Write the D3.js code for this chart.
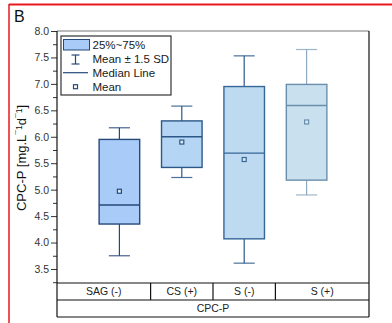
<!DOCTYPE html>
<html>
<head>
<meta charset="utf-8">
<script src="https://cdn.jsdelivr.net/npm/d3@7/dist/d3.min.js"></script>
<style>
  html, body { margin: 0; padding: 0; background: #fff; }
  svg { display: block; font-family: "Liberation Sans", Arial, sans-serif; }
</style>
</head>
<body>
<svg id="chart" width="392" height="323"></svg>
<script>
// Group labels and box statistics (CPC-P, mg.L^-1 d^-1)
const categories = ["SAG (-)", "CS (+)", "S (-)", "S (+)"];
const whiskerLow  = [3.75, 5.23, 3.61, 4.90];
const q1          = [4.35, 5.42, 4.07, 5.18];
const median      = [4.71, 6.00, 5.69, 6.59];
const q3          = [5.95, 6.30, 6.95, 6.99];
const whiskerHigh = [6.17, 6.58, 7.53, 7.65];
const means       = [4.97, 5.90, 5.57, 6.28];
const yTicks = [3.5, 4.0, 4.5, 5.0, 5.5, 6.0, 6.5, 7.0, 7.5, 8.0];
const groupLabel = "CPC-P";
const legendItems = ["25%~75%", "Mean \u00B1 1.5 SD", "Median Line", "Mean"];

const fills   = ["#a9cbf7", "#b5d5f4", "#bedaf0", "#c9e0ee"];
const strokes = ["#27497a", "#2c5888", "#356798", "#6a8fad"];
const whiskerColors = ["#27497a", "#2c5888", "#2c5888", "#8eaac2"];

const svg = d3.select("#chart");

// Panel frame
svg.append("line").attr("x1", 9).attr("x2", 392).attr("y1", 4.5).attr("y2", 4.5)
  .attr("stroke", "#e8191c").attr("stroke-width", 2);
svg.append("line").attr("x1", 9).attr("x2", 9).attr("y1", 4).attr("y2", 323)
  .attr("stroke", "#e8191c").attr("stroke-width", 1.5);
svg.append("text").attr("x", 14).attr("y", 22).attr("font-size", 16)
  .attr("fill", "#111").text("B");

const plot = { left: 57, right: 369, top: 31, bottom: 283 };
const rowH = 17;

const x = d3.scaleLinear().domain([0, categories.length + 1]).range([plot.left, plot.right]);
const y = d3.scaleLinear().domain([3.235, 8.0]).range([plot.bottom, plot.top]);
const boxW = (x(1) - x(0)) * 0.65;
const capW = boxW * 0.52;

// Y axis with minor ticks
const yAxis = d3.axisLeft(y).tickValues(yTicks).tickFormat(d3.format(".1f"))
  .tickSize(6).tickPadding(2);
const gy = svg.append("g").attr("transform", `translate(${plot.left},0)`).call(yAxis);
gy.select(".domain").remove();
gy.selectAll(".tick line").attr("stroke", "#333");
gy.selectAll(".tick text").attr("font-size", 10.5).attr("fill", "#333")
  .attr("font-family", "Liberation Sans, Arial, sans-serif");
const minorTicks = d3.range(3.25, 8.0, 0.5).filter(v => v > y.domain()[0]);
svg.append("g").attr("transform", `translate(${plot.left},0)`).call(
  d3.axisLeft(y).tickValues(minorTicks).tickFormat("").tickSize(4)
).call(g => { g.select(".domain").remove(); g.selectAll("line").attr("stroke", "#333"); });

// Boxes
const data = categories.map((c, i) => ({
  c, i, lo: whiskerLow[i], q1: q1[i], med: median[i], q3: q3[i], hi: whiskerHigh[i], mean: means[i]
}));
const g = svg.append("g");
data.forEach(d => {
  const cx = x(d.i + 1);
  const wc = whiskerColors[d.i];
  // whiskers
  g.append("line").attr("x1", cx).attr("x2", cx).attr("y1", y(d.q3)).attr("y2", y(d.hi))
    .attr("stroke", wc).attr("stroke-width", 1.2);
  g.append("line").attr("x1", cx).attr("x2", cx).attr("y1", y(d.q1)).attr("y2", y(d.lo))
    .attr("stroke", wc).attr("stroke-width", 1.2);
  [d.hi, d.lo].forEach(v => g.append("line")
    .attr("x1", cx - capW / 2).attr("x2", cx + capW / 2).attr("y1", y(v)).attr("y2", y(v))
    .attr("stroke", wc).attr("stroke-width", 1.2).attr("opacity", 0.85));
  // box
  g.append("rect").attr("x", cx - boxW / 2).attr("width", boxW)
    .attr("y", y(d.q3)).attr("height", y(d.q1) - y(d.q3))
    .attr("fill", fills[d.i]).attr("stroke", strokes[d.i]).attr("stroke-width", 1.4);
  // median
  g.append("line").attr("x1", cx - boxW / 2).attr("x2", cx + boxW / 2)
    .attr("y1", y(d.med)).attr("y2", y(d.med))
    .attr("stroke", strokes[d.i]).attr("stroke-width", 1.4);
  // mean
  g.append("rect").attr("x", cx - 2).attr("y", y(d.mean) - 2).attr("width", 4).attr("height", 4)
    .attr("fill", "#dbe8f5").attr("stroke", strokes[d.i]).attr("stroke-width", 1.2);
});

// Plot frame
svg.append("line").attr("x1", plot.left).attr("x2", plot.right).attr("y1", plot.top).attr("y2", plot.top)
  .attr("stroke", "#777").attr("stroke-width", 1.2);
svg.append("line").attr("x1", plot.right).attr("x2", plot.right).attr("y1", plot.top).attr("y2", plot.bottom)
  .attr("stroke", "#111").attr("stroke-width", 1.2);
svg.append("line").attr("x1", plot.left).attr("x2", plot.left).attr("y1", plot.top).attr("y2", plot.bottom + 2 * rowH)
  .attr("stroke", "#111").attr("stroke-width", 1.2);

// Category table under the plot
const tbl = svg.append("g");
[plot.bottom, plot.bottom + rowH, plot.bottom + 2 * rowH].forEach(yy =>
  tbl.append("line").attr("x1", plot.left).attr("x2", plot.right).attr("y1", yy).attr("y2", yy)
    .attr("stroke", "#111").attr("stroke-width", 1.2));
tbl.append("line").attr("x1", plot.right).attr("x2", plot.right)
  .attr("y1", plot.bottom).attr("y2", plot.bottom + 2 * rowH).attr("stroke", "#111").attr("stroke-width", 1.2);
categories.forEach((c, i) => {
  const l = i === 0 ? plot.left : x(i + 0.5);
  const r = i === categories.length - 1 ? plot.right : x(i + 1.5);
  if (i > 0) tbl.append("line").attr("x1", l).attr("x2", l)
    .attr("y1", plot.bottom).attr("y2", plot.bottom + rowH).attr("stroke", "#111").attr("stroke-width", 1.2);
  tbl.append("text").attr("x", (l + r) / 2).attr("y", plot.bottom + rowH / 2 + 3.8)
    .attr("text-anchor", "middle").attr("font-size", 10.5).attr("fill", "#222").text(c);
});
tbl.append("text").attr("x", (plot.left + plot.right) / 2).attr("y", plot.bottom + rowH * 1.5 + 3.8)
  .attr("text-anchor", "middle").attr("font-size", 10.5).attr("fill", "#222").text(groupLabel);

// Y axis title
const yt = svg.append("text")
  .attr("transform", `translate(26,${(plot.top + plot.bottom) / 2 + 1}) rotate(-90)`)
  .attr("text-anchor", "middle").attr("font-size", 13).attr("fill", "#111");
yt.append("tspan").text("CPC-P [mg.L");
yt.append("tspan").attr("dy", -4.5).attr("font-size", 8.5).text("\u00AF1");
yt.append("tspan").attr("dy", 4.5).text("d");
yt.append("tspan").attr("dy", -4.5).attr("font-size", 8.5).text("\u00AF1");
yt.append("tspan").attr("dy", 4.5).text("]");

// Legend
const lg = svg.append("g");
lg.append("rect").attr("x", 61).attr("y", 36).attr("width", 110).attr("height", 59)
  .attr("fill", "#fff").attr("stroke", "#333").attr("stroke-width", 1.2);
const rowsY = [44.5, 59, 72.7, 86.7];
lg.append("rect").attr("x", 63.5).attr("y", 39.5).attr("width", 26).attr("height", 10.5)
  .attr("fill", fills[0]).attr("stroke", strokes[0]).attr("stroke-width", 1);
lg.append("line").attr("x1", 75.5).attr("x2", 75.5).attr("y1", 55).attr("y2", 64)
  .attr("stroke", strokes[0]).attr("stroke-width", 1.2);
[55, 64].forEach(v => lg.append("line").attr("x1", 71.5).attr("x2", 79.5).attr("y1", v).attr("y2", v)
  .attr("stroke", strokes[0]).attr("stroke-width", 1.2));
lg.append("line").attr("x1", 63).attr("x2", 88).attr("y1", rowsY[2]).attr("y2", rowsY[2])
  .attr("stroke", strokes[0]).attr("stroke-width", 1.2);
lg.append("rect").attr("x", 73.5).attr("y", rowsY[3] - 2).attr("width", 4).attr("height", 4)
  .attr("fill", "#fff").attr("stroke", strokes[0]).attr("stroke-width", 1.2);
legendItems.forEach((t, i) => lg.append("text").attr("x", 92.5).attr("y", rowsY[i] + 4)
  .attr("font-size", 11.5).attr("fill", "#1a1a1a").text(t));
</script>
</body>
</html>
